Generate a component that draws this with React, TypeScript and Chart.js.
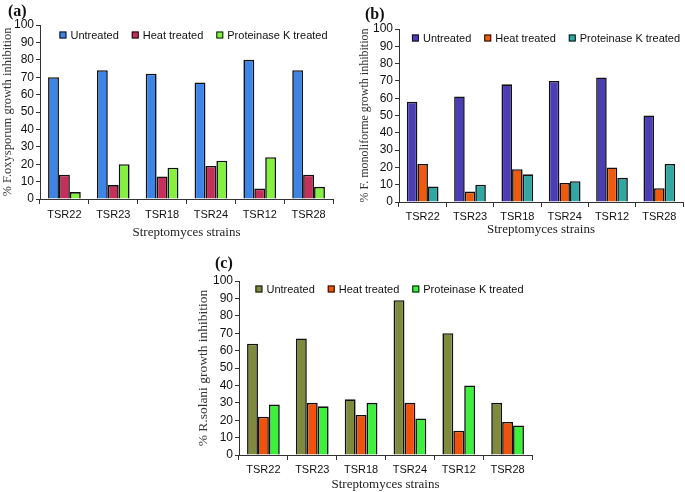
import React, { useEffect, useRef } from "react";
import { Chart, registerables } from "chart.js";

Chart.register(...registerables);

const categories = ["TSR22", "TSR23", "TSR18", "TSR24", "TSR12", "TSR28"];
const seriesNames = ["Untreated", "Heat treated", "Proteinase K treated"];
const yTicks = [0, 10, 20, 30, 40, 50, 60, 70, 80, 90, 100];

// (a) F. oxysporum
const aUntreated = [70, 74, 72, 67, 80, 74];
const aHeat = [14, 8, 13, 19, 6, 14];
const aProteinase = [4, 20, 18, 22, 24, 7];

// (b) F. moniliforme
const bUntreated = [58, 61, 68, 70, 72, 50];
const bHeat = [22, 6, 19, 11, 20, 8];
const bProteinase = [9, 10, 16, 12, 14, 22];

// (c) R. solani
const cUntreated = [64, 67, 32, 89, 70, 30];
const cHeat = [22, 30, 23, 30, 14, 19];
const cProteinase = [29, 28, 30, 21, 40, 17];

const xTitle = "Streptomyces strains";

type Panel = {
  tag: string;
  tagPos: { left: number; top: number };
  box: { left: number; top: number; width: number; height: number };
  series: number[][];
  colors: string[];
  yTitle: string;
  yTitleSize: number;
  padL: number;
  padR: number;
  padT: number;
  yW: number;
  xH: number;
  xTickPad: number;
  xTitlePadB: number;
  legendShift: number;
  legendOffsetY: number;
};

const panels: Panel[] = [
  {
    tag: "(a)",
    tagPos: { left: 8, top: 3 },
    box: { left: 0, top: 0, width: 340, height: 240 },
    series: [aUntreated, aHeat, aProteinase],
    colors: ["#3d84e8", "#c4305a", "#84f040"],
    yTitle: "% F.oxysporum growth inhibition",
    yTitleSize: 12.5,
    padL: 0,
    padR: 7,
    padT: 25,
    yW: 40,
    xH: 41,
    xTickPad: 4,
    xTitlePadB: 0,
    legendShift: 7,
    legendOffsetY: 10,
  },
  {
    tag: "(b)",
    tagPos: { left: 365, top: 6 },
    box: { left: 340, top: 0, width: 345, height: 240 },
    series: [bUntreated, bHeat, bProteinase],
    colors: ["#4a3db6", "#f05a0c", "#2fa7a2"],
    yTitle: "% F. monoliforme growth inhibition",
    yTitleSize: 12,
    padL: 18,
    padR: 2,
    padT: 29,
    yW: 41,
    xH: 38,
    xTickPad: 3,
    xTitlePadB: 3,
    legendShift: 5,
    legendOffsetY: 9,
  },
  {
    tag: "(c)",
    tagPos: { left: 215, top: 255 },
    box: { left: 180, top: 240, width: 370, height: 252 },
    series: [cUntreated, cHeat, cProteinase],
    colors: ["#7f8a3c", "#f0520a", "#3cf03c"],
    yTitle: "% R.solani growth inhibition",
    yTitleSize: 13.5,
    padL: 15,
    padR: 18,
    padT: 41,
    yW: 44,
    xH: 37,
    xTickPad: 3,
    xTitlePadB: 0,
    legendShift: 4,
    legendOffsetY: 8,
  },
];

const SANS = "'Liberation Sans', Arial, sans-serif";
const SERIF = "'Liberation Serif', 'Times New Roman', serif";

const insideLegend = {
  id: "insideLegend",
  afterDatasetsDraw(chart: any, _args: any, opts: any) {
    const ctx = chart.ctx;
    const ca = chart.chartArea;
    const box = 7;
    const gap = 4;
    const itemGap = 13;
    ctx.save();
    ctx.font = `11px ${SANS}`;
    const items = chart.data.datasets.map((d: any) => ({
      text: d.label,
      color: d.backgroundColor,
      w: box + gap + ctx.measureText(d.label).width,
    }));
    const total =
      items.reduce((s: number, it: any) => s + it.w, 0) + itemGap * (items.length - 1);
    let x = (ca.left + ca.right) / 2 - total / 2 + (opts.shift || 0);
    const y = ca.top + (opts.offsetY || 10);
    ctx.textBaseline = "middle";
    ctx.textAlign = "left";
    for (const it of items) {
      ctx.fillStyle = it.color;
      ctx.fillRect(x, y - box / 2, box, box);
      ctx.strokeStyle = "#111";
      ctx.lineWidth = 1;
      ctx.strokeRect(x + 0.5, y - box / 2 + 0.5, box - 1, box - 1);
      ctx.fillStyle = "#111";
      ctx.fillText(it.text, x + box + gap, y + 0.5);
      x += it.w + itemGap;
    }
    ctx.restore();
  },
};

function buildConfig(p: Panel): any {
  return {
    type: "bar",
    data: {
      labels: categories,
      datasets: p.series.map((vals, i) => ({
        label: seriesNames[i],
        data: vals,
        backgroundColor: p.colors[i],
        borderColor: "#111",
        borderWidth: 1.6,
        categoryPercentage: 0.67,
        barPercentage: 1,
      })),
    },
    plugins: [insideLegend],
    options: {
      responsive: false,
      animation: false,
      events: [],
      layout: { padding: { left: p.padL, right: p.padR, top: p.padT, bottom: 0 } },
      plugins: {
        legend: { display: false },
        tooltip: { enabled: false },
        insideLegend: { shift: p.legendShift, offsetY: p.legendOffsetY },
      },
      scales: {
        x: {
          grid: { drawOnChartArea: false, tickLength: 5, color: "#333", offset: true },
          border: { color: "#333", width: 1 },
          ticks: {
            padding: p.xTickPad,
            color: "#111",
            autoSkip: false,
            maxRotation: 0,
            font: { family: SANS, size: 11 },
          },
          title: {
            display: true,
            text: xTitle,
            color: "#222",
            font: { family: SERIF, size: 13 },
            padding: { top: 0, bottom: p.xTitlePadB },
          },
          afterFit: (s: any) => {
            s.height = p.xH;
          },
        },
        y: {
          min: 0,
          max: 100,
          afterBuildTicks: (s: any) => {
            s.ticks = yTicks.map((v) => ({ value: v }));
          },
          grid: { drawOnChartArea: false, tickLength: 4, color: "#333" },
          border: { color: "#333", width: 1 },
          ticks: {
            padding: 2,
            color: "#111",
            autoSkip: false,
            font: { family: SANS, size: 12 },
          },
          title: {
            display: true,
            text: p.yTitle,
            color: "#333",
            font: { family: SERIF, size: p.yTitleSize },
            padding: { top: 0, bottom: 0 },
          },
          afterFit: (s: any) => {
            s.width = p.yW;
          },
        },
      },
    },
  };
}

function PanelChart({ p }: { p: Panel }) {
  const ref = useRef<HTMLCanvasElement | null>(null);
  useEffect(() => {
    if (!ref.current) return;
    const chart = new Chart(ref.current, buildConfig(p));
    return () => chart.destroy();
  }, [p]);
  return (
    <>
      <div
        style={{
          position: "absolute",
          left: p.box.left,
          top: p.box.top,
          width: p.box.width,
          height: p.box.height,
        }}
      >
        <canvas
          ref={ref}
          width={p.box.width}
          height={p.box.height}
          style={{ width: p.box.width, height: p.box.height, display: "block" }}
        />
      </div>
      <div
        style={{
          position: "absolute",
          left: p.tagPos.left,
          top: p.tagPos.top,
          font: `bold 16px ${SERIF}`,
          lineHeight: "16px",
          color: "#111",
        }}
      >
        {p.tag}
      </div>
    </>
  );
}

export default function App() {
  return (
    <div
      style={{
        position: "absolute",
        left: 0,
        top: 0,
        width: 685,
        height: 492,
        background: "#fff",
      }}
    >
      {panels.map((p) => (
        <PanelChart key={p.tag} p={p} />
      ))}
    </div>
  );
}
